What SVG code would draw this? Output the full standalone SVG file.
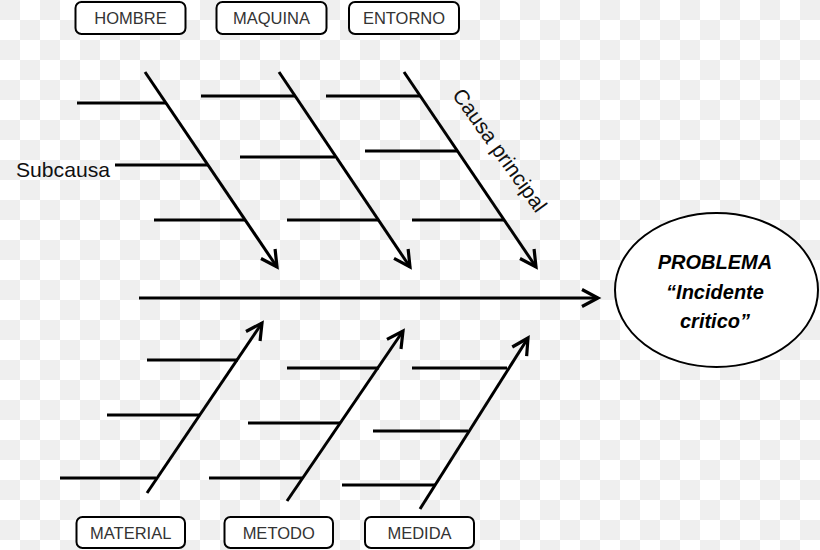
<svg xmlns="http://www.w3.org/2000/svg" width="820" height="550" viewBox="0 0 820 550">
  <defs>
    <pattern id="checker" width="40" height="40" patternUnits="userSpaceOnUse">
      <rect width="40" height="40" fill="#ffffff"/>
      <rect x="0" y="0" width="20" height="20" fill="#efefef"/>
      <rect x="20" y="20" width="20" height="20" fill="#efefef"/>
    </pattern>
    <marker id="arrow" markerUnits="userSpaceOnUse" viewBox="-20 -12 24 24" markerWidth="24" markerHeight="24" refX="0" refY="0" orient="auto">
      <path d="M-16,-8.5 L0,0 L-16,8.5" fill="none" stroke="#000" stroke-width="3.2" stroke-linejoin="miter"/>
    </marker>
    <style>
      .ln { stroke: #000; stroke-width: 3; fill: none; }
      .ar { stroke: #000; stroke-width: 3; fill: none; marker-end: url(#arrow); }
      .box { fill: #fff; stroke: #000; stroke-width: 2; }
      .boxt { font-family: "Liberation Sans", Arial, sans-serif; font-size: 16.5px; fill: #333; text-anchor: middle; }
      .lbl { font-family: "Liberation Sans", Arial, sans-serif; font-size: 21px; fill: #111; }
      .prob { font-family: "Liberation Sans", Arial, sans-serif; font-size: 20px; font-weight: bold; font-style: italic; fill: #000; text-anchor: middle; }
    </style>
  </defs>
  <rect width="820" height="550" fill="url(#checker)"/>

  <g id="connectors">
    <!-- spine -->
    <line class="ar" x1="139" y1="298" x2="598" y2="298"/>
    <!-- top branch 1 (HOMBRE) -->
    <line class="ar" x1="145" y1="72" x2="277" y2="267"/>
    <line class="ln" x1="77" y1="103" x2="166" y2="103"/>
    <line class="ln" x1="115" y1="165" x2="208" y2="165"/>
    <line class="ln" x1="154" y1="220" x2="245" y2="220"/>
    <!-- top branch 2 (MAQUINA) -->
    <line class="ar" x1="279" y1="72" x2="410" y2="267"/>
    <line class="ln" x1="201" y1="96" x2="295" y2="96"/>
    <line class="ln" x1="240" y1="157" x2="335" y2="157"/>
    <line class="ln" x1="287" y1="220" x2="378" y2="220"/>
    <!-- top branch 3 (ENTORNO) -->
    <line class="ar" x1="404" y1="72" x2="536" y2="267"/>
    <line class="ln" x1="326" y1="96" x2="420" y2="96"/>
    <line class="ln" x1="365" y1="151" x2="457" y2="151"/>
    <line class="ln" x1="412" y1="220" x2="504" y2="220"/>
    <!-- bottom branch 1 (MATERIAL) -->
    <line class="ar" x1="147" y1="493" x2="262" y2="323"/>
    <line class="ln" x1="147" y1="360" x2="238" y2="360"/>
    <line class="ln" x1="107" y1="415" x2="200" y2="415"/>
    <line class="ln" x1="60" y1="478" x2="156" y2="478"/>
    <!-- bottom branch 2 (METODO) -->
    <line class="ar" x1="287" y1="501" x2="403" y2="331"/>
    <line class="ln" x1="287" y1="368" x2="379" y2="368"/>
    <line class="ln" x1="248" y1="423" x2="340" y2="423"/>
    <line class="ln" x1="209" y1="478" x2="302" y2="478"/>
    <!-- bottom branch 3 (MEDIDA) -->
    <line class="ar" x1="420" y1="509" x2="528" y2="338"/>
    <line class="ln" x1="412" y1="368" x2="507" y2="368"/>
    <line class="ln" x1="373" y1="431" x2="468" y2="431"/>
    <line class="ln" x1="342" y1="485" x2="435" y2="485"/>
  </g>

  <g id="node-hombre">
    <rect class="box" x="75.5" y="2" width="110" height="32" rx="6"/>
    <text class="boxt" x="130.5" y="24">HOMBRE</text>
  </g>
  <g id="node-maquina">
    <rect class="box" x="216.5" y="2" width="110" height="32" rx="6"/>
    <text class="boxt" x="271.5" y="24">MAQUINA</text>
  </g>
  <g id="node-entorno">
    <rect class="box" x="349" y="2" width="110" height="32" rx="6"/>
    <text class="boxt" x="404" y="24">ENTORNO</text>
  </g>
  <g id="node-material">
    <rect class="box" x="76.5" y="517" width="108.5" height="31" rx="6"/>
    <text class="boxt" x="130.7" y="539">MATERIAL</text>
  </g>
  <g id="node-metodo">
    <rect class="box" x="224.5" y="517" width="108.5" height="31" rx="6"/>
    <text class="boxt" x="278.7" y="539">METODO</text>
  </g>
  <g id="node-medida">
    <rect class="box" x="365" y="517" width="109" height="31" rx="6"/>
    <text class="boxt" x="419.5" y="539">MEDIDA</text>
  </g>

  <g id="label-subcausa">
    <text class="lbl" x="16" y="177" textLength="94" lengthAdjust="spacingAndGlyphs">Subcausa</text>
  </g>
  <g id="label-causa-principal">
    <text class="lbl" font-size="22" transform="translate(451.5,95) rotate(54.5)" textLength="146" lengthAdjust="spacingAndGlyphs">Causa principal</text>
  </g>

  <g id="node-problema">
    <ellipse cx="716.5" cy="290" rx="101.5" ry="77" fill="#fff" stroke="#000" stroke-width="2"/>
    <text class="prob" x="715" y="269">PROBLEMA</text>
    <text class="prob" x="715" y="299">“Incidente</text>
    <text class="prob" x="715" y="328">critico”</text>
  </g>
</svg>
